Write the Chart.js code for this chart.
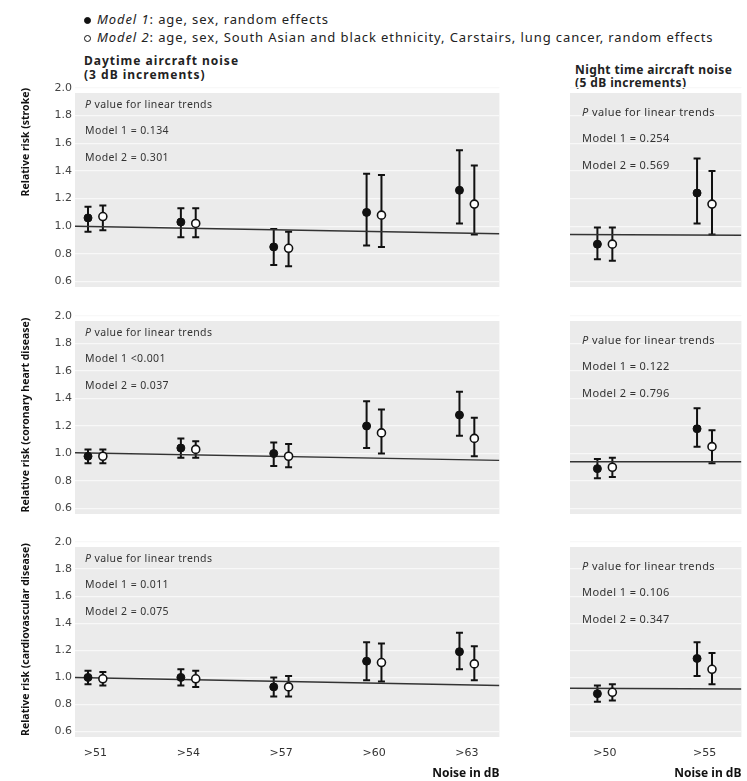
<!DOCTYPE html>
<html>
<head>
<meta charset="utf-8">
<script src="https://cdn.jsdelivr.net/npm/chart.js@4.4.1/dist/chart.umd.min.js"></script>
<style>
  body { margin: 0; background: #fff; width: 747px; height: 781px; position: relative; overflow: hidden;
         font-family: "Noto Sans", sans-serif; color: #222; }
  .txt { position: absolute; white-space: nowrap; line-height: 14px; }
  .leg { font-size: 13px; letter-spacing: 0.9px; }
  .ttl { font-weight: bold; font-size: 12px; }
  .dot { display: inline-block; width: 7px; height: 7px; border-radius: 50%; border: 1.5px solid #111;
         margin-right: 6px; vertical-align: 0px; box-sizing: border-box; }
  canvas { position: absolute; }
</style>
</head>
<body>
<div class="txt leg" style="left:84px; top:12px;"><span class="dot" style="background:#111"></span><i>Model 1</i>: age, sex, random effects</div>
<div class="txt leg" style="left:84px; top:30px;"><span class="dot" style="background:#fff"></span><i>Model 2</i>: age, sex, South Asian and black ethnicity, Carstairs, lung cancer, random effects</div>
<div class="txt ttl" style="left:84px; top:54px; letter-spacing:1px;">Daytime aircraft noise</div>
<div class="txt ttl" style="left:84px; top:68px; letter-spacing:1px;">(3 dB increments)</div>
<div class="txt ttl" style="left:575px; top:63px; letter-spacing:0.4px;">Night time aircraft noise</div>
<div class="txt ttl" style="left:575px; top:76px; letter-spacing:0.4px;">(5 dB increments)</div>

<canvas id="strokeDay" width="505" height="222" style="left:0; top:75px;"></canvas>
<canvas id="strokeNight" width="187" height="222" style="left:560px; top:75px;"></canvas>
<canvas id="chdDay" width="505" height="222" style="left:0; top:303px;"></canvas>
<canvas id="chdNight" width="187" height="222" style="left:560px; top:303px;"></canvas>
<canvas id="cvdDay" width="505" height="252" style="left:0; top:529px;"></canvas>
<canvas id="cvdNight" width="187" height="252" style="left:560px; top:529px;"></canvas>

<script>
// categories and ticks
const dayCats = ['>51', '>54', '>57', '>60', '>63'];
const nightCats = ['>50', '>55'];
const yTicks = [0.6, 0.8, 1.0, 1.2, 1.4, 1.6, 1.8, 2.0];

// relative risk, each entry = [estimate, lower, upper]
const strokeDayM1 = [[1.06, 0.96, 1.14], [1.03, 0.92, 1.13], [0.85, 0.72, 0.98], [1.10, 0.86, 1.38], [1.26, 1.02, 1.55]];
const strokeDayM2 = [[1.07, 0.97, 1.15], [1.02, 0.92, 1.13], [0.84, 0.71, 0.96], [1.08, 0.85, 1.37], [1.16, 0.94, 1.44]];
const strokeNightM1 = [[0.87, 0.76, 0.99], [1.24, 1.02, 1.49]];
const strokeNightM2 = [[0.87, 0.75, 0.99], [1.16, 0.94, 1.40]];

const chdDayM1 = [[0.98, 0.93, 1.03], [1.04, 0.97, 1.11], [1.00, 0.91, 1.08], [1.20, 1.04, 1.38], [1.28, 1.13, 1.45]];
const chdDayM2 = [[0.98, 0.93, 1.03], [1.03, 0.97, 1.09], [0.98, 0.90, 1.07], [1.15, 1.00, 1.32], [1.11, 0.98, 1.26]];
const chdNightM1 = [[0.89, 0.82, 0.96], [1.18, 1.05, 1.33]];
const chdNightM2 = [[0.90, 0.83, 0.97], [1.05, 0.93, 1.17]];

const cvdDayM1 = [[1.00, 0.95, 1.05], [1.00, 0.94, 1.06], [0.93, 0.86, 1.00], [1.12, 0.98, 1.26], [1.19, 1.06, 1.33]];
const cvdDayM2 = [[0.99, 0.94, 1.04], [0.99, 0.93, 1.05], [0.93, 0.86, 1.01], [1.11, 0.97, 1.25], [1.10, 0.98, 1.23]];
const cvdNightM1 = [[0.88, 0.82, 0.94], [1.14, 1.01, 1.26]];
const cvdNightM2 = [[0.89, 0.83, 0.95], [1.06, 0.95, 1.18]];

// linear trend line, value at left and right edge of panel
const strokeDayTrend = [1.00, 0.945];
const strokeNightTrend = [0.94, 0.935];
const chdDayTrend = [1.005, 0.95];
const chdNightTrend = [0.94, 0.94];
const cvdDayTrend = [1.00, 0.94];
const cvdNightTrend = [0.92, 0.915];

// p values
const pTitle = 'value for linear trends';
const strokeDayP = ['Model 1 = 0.134', 'Model 2 = 0.301'];
const strokeNightP = ['Model 1 = 0.254', 'Model 2 = 0.569'];
const chdDayP = ['Model 1 <0.001', 'Model 2 = 0.037'];
const chdNightP = ['Model 1 = 0.122', 'Model 2 = 0.796'];
const cvdDayP = ['Model 1 = 0.011', 'Model 2 = 0.075'];
const cvdNightP = ['Model 1 = 0.106', 'Model 2 = 0.347'];

const FONT = '"Noto Sans", sans-serif';
const TICKFONT = '"DejaVu Sans", sans-serif';

// grey panel background
const shade = {
    id: 'shade',
    beforeDraw(chart) {
        const a = chart.chartArea, ctx = chart.ctx;
        ctx.save();
        ctx.fillStyle = '#ebebeb';
        ctx.fillRect(a.left, a.top + 5, a.right - a.left, a.bottom - a.top - 5);
        ctx.restore();
    }
};

// vertical error bars with caps
const errorBars = {
    id: 'errorBars',
    beforeDatasetsDraw(chart) {
        const ctx = chart.ctx, y = chart.scales.y;
        ctx.save();
        ctx.strokeStyle = '#111';
        ctx.lineWidth = 2;
        [0, 1].forEach(di => {
            chart.getDatasetMeta(di).data.forEach((pt, i) => {
                const d = chart.data.datasets[di].data[i];
                const t = y.getPixelForValue(d.hi), b = y.getPixelForValue(d.lo);
                ctx.beginPath();
                ctx.moveTo(pt.x, t); ctx.lineTo(pt.x, b);
                ctx.moveTo(pt.x - 3.5, t); ctx.lineTo(pt.x + 3.5, t);
                ctx.moveTo(pt.x - 3.5, b); ctx.lineTo(pt.x + 3.5, b);
                ctx.stroke();
            });
        });
        ctx.restore();
    }
};

function pText(lines, o) {
    return {
        id: 'pText',
        afterDraw(chart) {
            const a = chart.chartArea, ctx = chart.ctx;
            const x = a.left + o.tx;
            ctx.save();
            ctx.fillStyle = '#333';
            ctx.textBaseline = 'middle';
            ctx.letterSpacing = o.ls + 'px';
            ctx.font = 'italic ' + o.fs + 'px ' + FONT;
            ctx.fillText('P', x, a.top + o.ty[0]);
            const w = ctx.measureText('P ').width;
            ctx.font = o.fs + 'px ' + FONT;
            ctx.fillText(pTitle, x + w, a.top + o.ty[0]);
            ctx.fillText(lines[0], x, a.top + o.ty[1]);
            ctx.fillText(lines[1], x, a.top + o.ty[2]);
            ctx.restore();
        }
    };
}

function panel(id, cats, m1, m2, trend, pLines, o) {
    const showX = o.xAxis === true;
    const toPts = (arr, dx) => arr.map((d, i) => ({ x: i + dx, y: d[0], lo: d[1], hi: d[2] }));
    new Chart(document.getElementById(id), {
        type: 'scatter',
        data: {
            datasets: [{
                label: 'Model 1',
                data: toPts(m1, -o.dx),
                pointRadius: 4,
                pointBackgroundColor: '#111',
                pointBorderColor: '#111',
                pointBorderWidth: 1,
            }, {
                label: 'Model 2',
                data: toPts(m2, o.dx),
                pointRadius: 4,
                pointBackgroundColor: '#fff',
                pointBorderColor: '#111',
                pointBorderWidth: 1.6,
            }, {
                type: 'line',
                label: 'Trend',
                data: [{ x: o.xMin, y: trend[0] }, { x: o.xMax, y: trend[1] }],
                borderColor: '#333',
                borderWidth: 1.5,
                pointRadius: 0,
            }],
        },
        options: {
            responsive: false,
            animation: false,
            layout: { padding: { top: 13, bottom: showX ? 0 : o.padB, left: o.night ? 10 : 0, right: 5 } },
            plugins: { legend: { display: false }, tooltip: { enabled: false } },
            scales: {
                x: {
                    type: 'linear',
                    min: o.xMin,
                    max: o.xMax,
                    display: showX,
                    grid: { display: false },
                    border: { display: false },
                    afterBuildTicks: s => { s.ticks = cats.map((c, i) => ({ value: i })); },
                    afterFit: s => { s.height = showX ? 44 : 0; },
                    ticks: {
                        display: showX,
                        callback: v => cats[v],
                        autoSkip: false,
                        maxRotation: 0,
                        padding: 2,
                        color: '#333',
                        font: { family: TICKFONT, size: 11 },
                    },
                    title: {
                        display: showX,
                        text: 'Noise in dB',
                        align: 'end',
                        color: '#111',
                        padding: { top: 0, bottom: 0 },
                        font: { family: FONT, size: 12, weight: 'bold' },
                    },
                },
                y: {
                    min: 0.56,
                    max: 2.0,
                    afterBuildTicks: s => { s.ticks = yTicks.map(v => ({ value: v })); },
                    afterFit: s => { s.width = o.night ? 0 : 75; },
                    grid: { color: '#f8f8f8', lineWidth: 1.2, drawTicks: false },
                    border: { display: false },
                    ticks: {
                        display: !o.night,
                        callback: v => v.toFixed(1),
                        padding: 3,
                        color: '#444',
                        font: { family: TICKFONT, size: 11 },
                    },
                    title: {
                        display: !o.night,
                        text: o.yTitle,
                        align: o.yAlign || 'center',
                        color: '#111',
                        padding: { top: 20, bottom: 0 },
                        font: { family: FONT, size: 10.5, weight: 'bold' },
                    },
                },
            },
        },
        plugins: [shade, errorBars, pText(pLines, o)],
    });
}

const day = { xMin: -0.22, xMax: 4.35, dx: 0.08, tx: 10, ty: [17, 43, 70], fs: 10.5, ls: 0.4, padB: 10, xAxis: false };
const night = { xMin: -0.35, xMax: 1.37, dx: 0.075, tx: 12, ty: [25, 51, 78], fs: 11, ls: 0.4, padB: 10, xAxis: false, night: true };

panel('strokeDay', dayCats, strokeDayM1, strokeDayM2, strokeDayTrend, strokeDayP,
    Object.assign({}, day, { yTitle: 'Relative risk (stroke)', yAlign: 'end' }));
panel('strokeNight', nightCats, strokeNightM1, strokeNightM2, strokeNightTrend, strokeNightP, night);
panel('chdDay', dayCats, chdDayM1, chdDayM2, chdDayTrend, chdDayP,
    Object.assign({}, day, { yTitle: 'Relative risk (coronary heart disease)', padB: 11 }));
panel('chdNight', nightCats, chdNightM1, chdNightM2, chdNightTrend, chdNightP,
    Object.assign({}, night, { padB: 11 }));
panel('cvdDay', dayCats, cvdDayM1, cvdDayM2, cvdDayTrend, cvdDayP,
    Object.assign({}, day, { yTitle: 'Relative risk (cardiovascular disease)', xAxis: true }));
panel('cvdNight', nightCats, cvdNightM1, cvdNightM2, cvdNightTrend, cvdNightP,
    Object.assign({}, night, { xAxis: true }));
</script>
</body>
</html>
